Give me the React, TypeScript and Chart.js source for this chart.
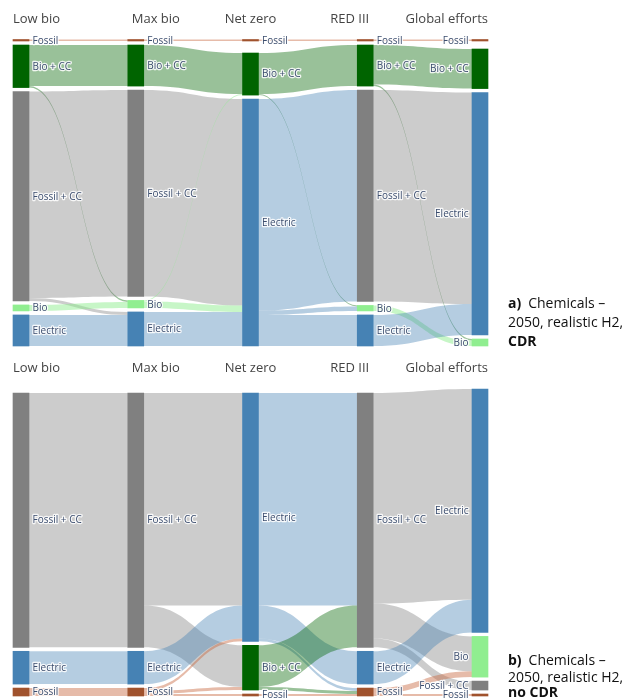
import React, { useEffect, useRef } from 'react';
import { Chart, registerables } from 'chart.js';

Chart.register(...registerables);

// ---------- DATA ----------
const SCENARIOS = ['Low bio', 'Max bio', 'Net zero', 'RED III', 'Global efforts'];

// node order (top -> bottom) of each scenario column, panel a (CDR)
const NODES_A: string[][] = [
  ['Fossil', 'Bio + CC', 'Fossil + CC', 'Bio', 'Electric'],
  ['Fossil', 'Bio + CC', 'Fossil + CC', 'Bio', 'Electric'],
  ['Fossil', 'Bio + CC', 'Electric'],
  ['Fossil', 'Bio + CC', 'Fossil + CC', 'Bio', 'Electric'],
  ['Fossil', 'Bio + CC', 'Electric', 'Bio'],
];

// flows: [from scenario index, source carrier, target carrier, value]
const LINKS_A: [number, string, string, number][] = [
  [0, 'Fossil', 'Fossil', 1.5],
  [0, 'Bio + CC', 'Bio + CC', 41],
  [0, 'Bio + CC', 'Bio', 1.5],
  [0, 'Fossil + CC', 'Fossil + CC', 206],
  [0, 'Fossil + CC', 'Electric', 3],
  [0, 'Bio', 'Bio', 6],
  [0, 'Electric', 'Electric', 31],
  [1, 'Fossil', 'Fossil', 1.5],
  [1, 'Bio + CC', 'Bio + CC', 41],
  [1, 'Fossil + CC', 'Electric', 206],
  [1, 'Bio', 'Bio + CC', 1],
  [1, 'Bio', 'Electric', 6.5],
  [1, 'Electric', 'Electric', 34],
  [2, 'Fossil', 'Fossil', 1.5],
  [2, 'Bio + CC', 'Bio + CC', 41],
  [2, 'Bio + CC', 'Bio', 1],
  [2, 'Electric', 'Fossil + CC', 211],
  [2, 'Electric', 'Bio', 4.5],
  [2, 'Electric', 'Electric', 31],
  [3, 'Fossil', 'Fossil', 1.5],
  [3, 'Bio + CC', 'Bio + CC', 39.5],
  [3, 'Bio + CC', 'Bio', 1.5],
  [3, 'Fossil + CC', 'Electric', 211],
  [3, 'Bio', 'Bio', 5.5],
  [3, 'Electric', 'Electric', 31],
];

// panel b (no CDR)
const NODES_B: string[][] = [
  ['Fossil + CC', 'Electric', 'Fossil'],
  ['Fossil + CC', 'Electric', 'Fossil'],
  ['Electric', 'Bio + CC', 'Fossil'],
  ['Fossil + CC', 'Electric', 'Fossil'],
  ['Electric', 'Bio', 'Fossil + CC', 'Fossil'],
];

const LINKS_B: [number, string, string, number][] = [
  [0, 'Fossil + CC', 'Fossil + CC', 256],
  [0, 'Electric', 'Electric', 33],
  [0, 'Fossil', 'Fossil', 8],
  [1, 'Fossil + CC', 'Electric', 214],
  [1, 'Fossil + CC', 'Bio + CC', 42],
  [1, 'Electric', 'Electric', 33],
  [1, 'Fossil', 'Electric', 3],
  [1, 'Fossil', 'Bio + CC', 3],
  [1, 'Fossil', 'Fossil', 2],
  [2, 'Electric', 'Fossil + CC', 214],
  [2, 'Electric', 'Electric', 33],
  [2, 'Electric', 'Fossil', 3],
  [2, 'Bio + CC', 'Fossil + CC', 42],
  [2, 'Bio + CC', 'Fossil', 3],
  [2, 'Fossil', 'Fossil', 2],
  [3, 'Fossil + CC', 'Electric', 212],
  [3, 'Fossil + CC', 'Bio', 35],
  [3, 'Fossil + CC', 'Fossil + CC', 9],
  [3, 'Electric', 'Electric', 33],
  [3, 'Fossil', 'Bio', 6],
  [3, 'Fossil', 'Fossil', 2],
];

const CAPTION_A: [string, boolean][][] = [
  [['a)', true], ['Chemicals –', false]],
  [['2050, realistic H2,', false]],
  [['CDR', true]],
];
const CAPTION_B: [string, boolean][][] = [
  [['b)', true], ['Chemicals –', false]],
  [['2050, realistic H2,', false]],
  [['no CDR', true]],
];

// ---------- STYLE ----------
const NODE_COLORS: Record<string, string> = {
  'Fossil': '#a0522d',
  'Bio + CC': '#006400',
  'Fossil + CC': '#808080',
  'Bio': '#90ee90',
  'Electric': '#4682b4',
};
const LINK_COLORS: Record<string, string> = {
  'Fossil': 'rgba(200,105,65,0.45)',
  'Bio + CC': 'rgba(0,100,0,0.4)',
  'Fossil + CC': 'rgba(128,128,128,0.4)',
  'Bio': 'rgba(144,238,144,0.5)',
  'Electric': 'rgba(70,130,180,0.4)',
};
const GAP = 4;
const HALF = 8;
const W = 633;

type Link = [number, string, string, number];
interface NodeBox { col: number; name: string; value: number; y0: number; y1: number; }
interface Band { c: number; s: NodeBox; t: NodeBox; v: number; sy0: number; ty0: number; color: string; }

function layout(columns: string[][], links: Link[]) {
  const nodes: NodeBox[][] = columns.map((names, c) =>
    names.map((name) => {
      const inV = links.filter((l) => l[0] === c - 1 && l[2] === name).reduce((s, l) => s + l[3], 0);
      const outV = links.filter((l) => l[0] === c && l[1] === name).reduce((s, l) => s + l[3], 0);
      return { col: c, name, value: Math.max(inV, outV), y0: 0, y1: 0 };
    })
  );
  const extents = nodes.map((col) => col.reduce((s, n) => s + n.value, 0) + GAP * (col.length - 1));
  const maxExtent = Math.max(...extents);
  nodes.forEach((col) => {
    let y = maxExtent;
    for (let i = col.length - 1; i >= 0; i--) {
      col[i].y1 = y;
      col[i].y0 = y - col[i].value;
      y = col[i].y0 - GAP;
    }
    if (col[0].value < GAP * 2 && col[0].y0 > 0) {
      col[0].y0 = 0;
      col[0].y1 = col[0].value;
    }
  });
  const find = (c: number, name: string) => nodes[c].find((n) => n.name === name)!;
  const bands: Band[] = links.map((l) => ({
    c: l[0], s: find(l[0], l[1]), t: find(l[0] + 1, l[2]), v: l[3], sy0: 0, ty0: 0, color: LINK_COLORS[l[1]],
  }));
  nodes.flat().forEach((n) => {
    let off = n.y0;
    bands.filter((b) => b.s === n).sort((a, b) => a.t.y0 - b.t.y0).forEach((b) => { b.sy0 = off; off += b.v; });
    off = n.y0;
    bands.filter((b) => b.t === n).sort((a, b) => a.s.y0 - b.s.y0).forEach((b) => { b.ty0 = off; off += b.v; });
  });
  return { nodes, bands, maxExtent };
}

interface PanelProps {
  columns: string[][];
  links: Link[];
  caption: [string, boolean][][];
  captionBaselines: number[];
  top: number;
  height: number;
  padTop: number;
  padBottom: number;
  headerBaseline: number;
}

function SankeyPanel(p: PanelProps) {
  const ref = useRef<HTMLCanvasElement>(null);
  useEffect(() => {
    const { nodes, bands, maxExtent } = layout(p.columns, p.links);
    const flat = nodes.flat();
    const plugin = {
      id: 'sankeyLinks',
      beforeDatasetsDraw(chart: any) {
        const ctx = chart.ctx;
        const xs = chart.scales.x, ys = chart.scales.y;
        ctx.save();
        for (const b of bands) {
          const x0 = xs.getPixelForValue(b.c) + HALF;
          const x1 = xs.getPixelForValue(b.c + 1) - HALF;
          const a0 = ys.getPixelForValue(b.sy0), a1 = ys.getPixelForValue(b.sy0 + b.v);
          const t0 = ys.getPixelForValue(b.ty0), t1 = ys.getPixelForValue(b.ty0 + b.v);
          const xm = (x0 + x1) / 2;
          ctx.beginPath();
          ctx.moveTo(x0, a0);
          ctx.bezierCurveTo(xm, a0, xm, t0, x1, t0);
          ctx.lineTo(x1, t1);
          ctx.bezierCurveTo(xm, t1, xm, a1, x0, a1);
          ctx.closePath();
          ctx.fillStyle = b.color;
          ctx.fill();
        }
        ctx.restore();
      },
      afterDatasetsDraw(chart: any) {
        const ctx = chart.ctx;
        const xs = chart.scales.x, ys = chart.scales.y;
        ctx.save();
        // node labels
        ctx.font = '10px "Open Sans", sans-serif';
        ctx.textBaseline = 'middle';
        ctx.lineJoin = 'round';
        for (const n of flat) {
          const cx = xs.getPixelForValue(n.col);
          const cy = (ys.getPixelForValue(n.y0) + ys.getPixelForValue(n.y1)) / 2;
          const last = n.col === SCENARIOS.length - 1;
          const x = last ? cx - HALF - 3.5 : cx + HALF + 3.5;
          ctx.textAlign = last ? 'right' : 'left';
          ctx.strokeStyle = 'rgba(255,255,255,0.85)';
          ctx.lineWidth = 2.5;
          ctx.strokeText(n.name, x, cy + 0.5);
          ctx.fillStyle = '#3b4d6e';
          ctx.fillText(n.name, x, cy + 0.5);
        }
        // scenario headers
        const left = xs.getPixelForValue(0) - HALF;
        const right = xs.getPixelForValue(SCENARIOS.length - 1) + HALF;
        ctx.font = '13px "Open Sans", sans-serif';
        ctx.textBaseline = 'alphabetic';
        ctx.fillStyle = '#444';
        SCENARIOS.forEach((s, i) => {
          const f = i / (SCENARIOS.length - 1);
          ctx.textAlign = f < 1 / 3 ? 'left' : f > 2 / 3 ? 'right' : 'center';
          ctx.fillText(s, left + f * (right - left), p.headerBaseline);
        });
        // caption
        ctx.textAlign = 'left';
        ctx.fillStyle = '#111';
        p.caption.forEach((line, li) => {
          let x = 508;
          line.forEach(([txt, bold], si) => {
            ctx.font = (bold ? 'bold ' : '') + '14px "Open Sans", sans-serif';
            ctx.fillText(txt, x, p.captionBaselines[li]);
            x += ctx.measureText(txt).width + (si === 0 && line.length > 1 ? 7 : 0);
          });
        });
        ctx.restore();
      },
    };
    const chart = new Chart(ref.current!, {
      type: 'bar',
      data: {
        datasets: [
          {
            data: flat.map((n) => ({ x: n.col, y: [n.y0, n.y1] })) as any,
            backgroundColor: flat.map((n) => NODE_COLORS[n.name]),
            barThickness: HALF * 2,
            borderWidth: 0,
            borderSkipped: false,
            grouped: false,
            clip: false as any,
          },
        ],
      },
      options: {
        animation: false,
        responsive: false,
        devicePixelRatio: 1,
        events: [],
        layout: { padding: { left: 21, right: W - 480, top: p.padTop, bottom: p.padBottom } },
        scales: {
          x: { type: 'linear', min: 0, max: SCENARIOS.length - 1, display: false, offset: false },
          y: { type: 'linear', min: 0, max: maxExtent, reverse: true, display: false },
        },
        plugins: { legend: { display: false }, tooltip: { enabled: false } },
      },
      plugins: [plugin],
    });
    return () => chart.destroy();
  }, []);
  return (
    <canvas
      ref={ref}
      width={W}
      height={p.height}
      style={{ position: 'absolute', left: 0, top: p.top, width: W, height: p.height }}
    />
  );
}

export default function App() {
  return (
    <div style={{ position: 'absolute', left: 0, top: 0, width: W, height: 698, background: '#fff', overflow: 'hidden' }}>
      <SankeyPanel
        columns={NODES_A}
        links={LINKS_A}
        caption={CAPTION_A}
        captionBaselines={[308, 327, 346]}
        top={0}
        height={350}
        padTop={39.5}
        padBottom={4}
        headerBaseline={22.7}
      />
      <SankeyPanel
        columns={NODES_B}
        links={LINKS_B}
        caption={CAPTION_B}
        captionBaselines={[315, 332, 347]}
        top={350}
        height={348}
        padTop={39}
        padBottom={2}
        headerBaseline={22.3}
      />
    </div>
  );
}
